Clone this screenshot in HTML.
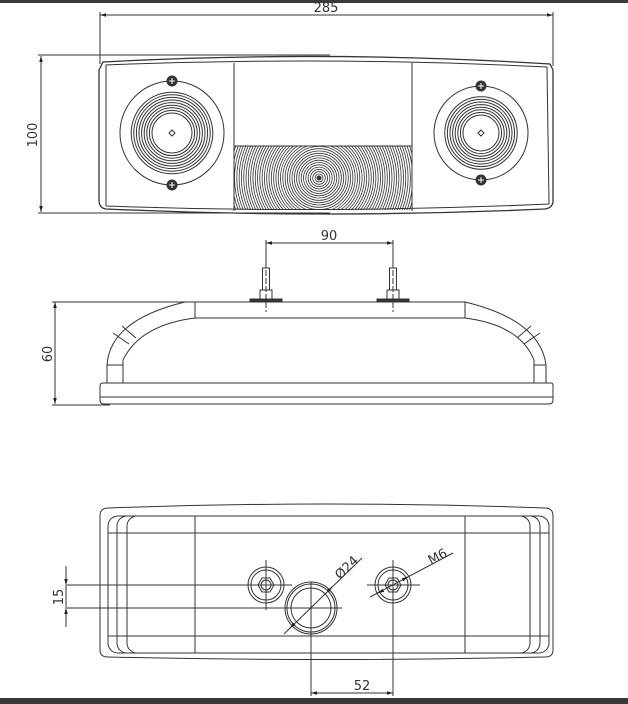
<!DOCTYPE html>
<html><head><meta charset="utf-8"><style>
html,body{margin:0;padding:0;background:#fff;width:628px;height:704px;overflow:hidden}
svg{display:block}
text{font-family:"DejaVu Sans","Liberation Sans",sans-serif;font-size:13px;fill:#333;stroke:none}
</style></head><body>
<svg id="s" width="628" height="704" viewBox="0 0 628 704" xmlns="http://www.w3.org/2000/svg" fill="none" stroke="#333" stroke-width="1">
<defs>
<marker id="a" viewBox="0 0 10 10" refX="10" refY="5" markerWidth="8" markerHeight="6" orient="auto-start-reverse"><path d="M0,2 L10,5 L0,8z" fill="#222" stroke="none"/></marker>
<clipPath id="cc"><rect x="234" y="146" width="178" height="64"/></clipPath>
</defs>
<rect x="0" y="0" width="628" height="3" fill="#3a3a3a" stroke="none"/>
<rect x="0" y="698" width="628" height="6" fill="#3a3a3a" stroke="none"/>

<!-- TOP VIEW -->
<line x1="100" y1="15" x2="553" y2="15" marker-start="url(#a)" marker-end="url(#a)"/>
<line x1="100" y1="12" x2="100" y2="64"/><line x1="553" y1="12" x2="553" y2="66"/>
<text x="326" y="12" text-anchor="middle">285</text>
<line x1="41" y1="56" x2="41" y2="212" marker-start="url(#a)" marker-end="url(#a)"/>
<line x1="38" y1="55" x2="330" y2="55"/><line x1="38" y1="213" x2="330" y2="213"/>
<text x="0" y="0" transform="translate(37,135) rotate(-90)" text-anchor="middle">100</text>
<path d="M103,62 Q326,50 550,64 L553,70 L553,202 Q552,208 545,209 Q326,219 106,209 Q99,208 99,200 L99,70 Z" stroke-width="1.3"/>
<path d="M106,65 Q326,56 547,67 L549,204 Q326,214 106,206 Z"/>
<line x1="234" y1="63" x2="234" y2="211"/><line x1="412" y1="63" x2="412" y2="211"/>
<line x1="234" y1="146" x2="412" y2="146"/>
<g id="gen"></g>

<!-- SIDE VIEW -->
<line x1="266" y1="243" x2="393" y2="243" marker-start="url(#a)" marker-end="url(#a)"/>
<line x1="266" y1="240" x2="266" y2="268"/><line x1="393" y1="240" x2="393" y2="268"/>
<text x="329" y="240" text-anchor="middle">90</text>
<line x1="55" y1="302" x2="55" y2="404" marker-start="url(#a)" marker-end="url(#a)"/>
<line x1="52" y1="302" x2="190" y2="302"/><line x1="52" y1="405" x2="110" y2="405"/>
<text x="0" y="0" transform="translate(52,354) rotate(-90)" text-anchor="middle">60</text>
<path d="M107,383 L107,365 Q110,320 185,302 L465,302 Q540,320 546,365 L546,383"/>
<path d="M123,383 L123,360 Q140,325 195,318 L465,318 Q520,325 534,360 L534,383"/>
<line x1="195" y1="302" x2="195" y2="318"/><line x1="465" y1="302" x2="465" y2="318"/>
<line x1="107" y1="365" x2="123" y2="365"/><line x1="534" y1="365" x2="546" y2="365"/>
<line x1="113" y1="333" x2="129" y2="344"/><line x1="122" y1="326" x2="136" y2="338"/>
<line x1="540" y1="333" x2="524" y2="344"/><line x1="531" y1="326" x2="517" y2="338"/>
<path d="M103,383 L551,383 Q553,383 553,386 L553,400 Q553,404 549,404 L104,404 Q100,404 100,400 L100,386 Q100,383 103,383Z"/>
<line x1="100" y1="397" x2="553" y2="397"/>
<g id="studs"></g>

<!-- BOTTOM VIEW -->
<path d="M108,508 Q326,500 545,508 Q553,508 553,516 L553,650 Q553,657 545,657 Q326,662 108,657 Q100,657 100,650 L100,516 Q100,508 108,508Z"/>
<rect x="108" y="516" width="441" height="137" rx="10"/>
<rect x="117" y="516" width="423" height="137" rx="10"/>
<rect x="127" y="516" width="403" height="137" rx="10"/>
<line x1="108" y1="533" x2="549" y2="533"/><line x1="108" y1="636" x2="549" y2="636"/>
<line x1="195" y1="516" x2="195" y2="653"/><line x1="465" y1="516" x2="465" y2="653"/>
<circle cx="266" cy="585" r="18"/><circle cx="266" cy="585" r="15"/>
<polygon points="274,585 270,592 262,592 258,585 262,578 270,578"/><circle cx="266" cy="585" r="5"/>
<circle cx="393" cy="585" r="18"/><circle cx="393" cy="585" r="15"/>
<polygon points="401,585 397,592 389,592 385,585 389,578 397,578"/><circle cx="393" cy="585" r="5"/>
<line x1="266" y1="560" x2="266" y2="610"/><line x1="240" y1="585" x2="292" y2="585"/>
<line x1="393" y1="560" x2="393" y2="610"/><line x1="367" y1="585" x2="420" y2="585"/>
<circle cx="311" cy="608" r="26"/><circle cx="311" cy="608" r="24"/><circle cx="311" cy="608" r="20"/>
<line x1="67" y1="585" x2="290" y2="585"/><line x1="67" y1="608" x2="342" y2="608"/>
<line x1="311" y1="582" x2="311" y2="696"/><line x1="393" y1="600" x2="393" y2="696"/>
<line x1="66" y1="566" x2="66" y2="585" marker-end="url(#a)"/><line x1="66" y1="627" x2="66" y2="608" marker-end="url(#a)"/>
<line x1="66" y1="585" x2="66" y2="608"/>
<text x="0" y="0" transform="translate(63,597) rotate(-90)" text-anchor="middle">15</text>
<line x1="311" y1="693" x2="393" y2="693" marker-start="url(#a)" marker-end="url(#a)"/>
<text x="362" y="690" text-anchor="middle">52</text>
<line x1="284" y1="634" x2="362" y2="558"/>
<line x1="292" y1="626" x2="290" y2="628" marker-end="url(#a)"/><line x1="330" y1="589" x2="332" y2="587" marker-end="url(#a)"/>
<text x="0" y="0" transform="translate(340,580) rotate(-44)">Ø24</text>
<line x1="370" y1="597" x2="453" y2="553"/>
<line x1="380" y1="592" x2="378" y2="593" marker-end="url(#a)"/><line x1="406" y1="578" x2="408" y2="577" marker-end="url(#a)"/>
<text x="0" y="0" transform="translate(431,565) rotate(-28)">M6</text>
</svg>
<script>
var NS="http://www.w3.org/2000/svg",g=document.getElementById("gen");
function el(n,a,p){var e=document.createElementNS(NS,n);for(var k in a)e.setAttribute(k,a[k]);(p||g).appendChild(e);return e;}
function lamp(cx,cy,R,r0,r1){el("circle",{cx:cx,cy:cy,r:R});for(var r=r0;r<=r1;r+=2.6)el("circle",{cx:cx,cy:cy,r:r});
el("path",{d:"M"+(cx-3)+","+cy+" L"+cx+","+(cy-3)+" L"+(cx+3)+","+cy+" L"+cx+","+(cy+3)+"Z"});
[cy-R,cy+R].forEach(function(y){el("circle",{cx:cx,cy:y,r:5,fill:"#333"});el("line",{x1:cx-3,y1:y,x2:cx+3,y2:y,stroke:"#fff"});el("line",{x1:cx,y1:y-3,x2:cx,y2:y+3,stroke:"#fff"});});}
lamp(172,133,52,20,41);lamp(481,133,47,18,37);
var cg=el("g",{"clip-path":"url(#cc)"});
for(var r=4;r<=110;r+=2.3)el("circle",{cx:319,cy:178,r:r,"stroke-width":0.8},cg);
el("circle",{cx:319,cy:178,r:2,fill:"#333"});
var s=document.getElementById("studs");
[266,393].forEach(function(x){el("rect",{x:x-3.5,y:268,width:7,height:22},s);el("rect",{x:x-6,y:290,width:12,height:9},s);
el("rect",{x:x-16,y:299,width:32,height:2.5,fill:"#333"},s);el("line",{x1:x,y1:262,x2:x,y2:312,"stroke-dasharray":"6,2"},s);});
</script>
</body></html>
